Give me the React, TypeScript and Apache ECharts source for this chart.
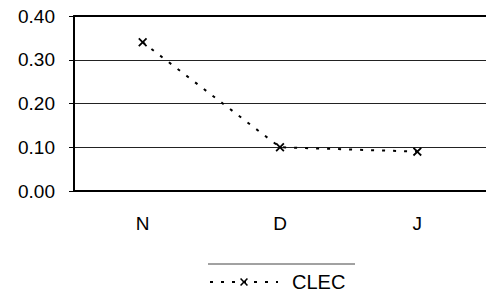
import React, { useEffect, useRef } from "react";
import * as echarts from "echarts";

const categories = ["N", "D", "J"];
const clecValues = [0.34, 0.1, 0.09];
const seriesName = "CLEC";
const yTicks = { min: 0, max: 0.4, interval: 0.1 };

const FONT = "'Liberation Sans', Arial, sans-serif";
const X_MARK = "path://M0,1.4L1.4,0L5,3.6L8.6,0L10,1.4L6.4,5L10,8.6L8.6,10L5,6.4L1.4,10L0,8.6L3.6,5Z";

export default function App() {
  const ref = useRef<HTMLDivElement>(null);
  useEffect(() => {
    const chart = echarts.init(ref.current!, null, { renderer: "svg" });
    chart.setOption({
      animation: false,
      backgroundColor: "#ffffff",
      textStyle: { fontFamily: FONT, color: "#000" },
      grid: { left: 74, top: 16, width: 416, height: 175, containLabel: false },
      xAxis: [
        {
          type: "category",
          data: categories,
          boundaryGap: true,
          axisLine: { show: true, lineStyle: { color: "#000", width: 2 } },
          axisTick: { show: false },
          axisLabel: { color: "#000", fontSize: 19, fontFamily: FONT, margin: 23 },
        },
        {
          type: "category",
          data: categories,
          position: "top",
          axisLine: { show: true, lineStyle: { color: "#000", width: 2 } },
          axisTick: { show: false },
          axisLabel: { show: false },
        },
      ],
      yAxis: {
        type: "value",
        min: yTicks.min,
        max: yTicks.max,
        interval: yTicks.interval,
        axisLine: { show: true, lineStyle: { color: "#000", width: 2 } },
        axisTick: { show: true, length: 5, lineStyle: { color: "#000", width: 1 } },
        axisLabel: {
          color: "#000",
          fontSize: 19,
          fontFamily: FONT,
          margin: 19,
          formatter: (v: number) => v.toFixed(2),
        },
        splitLine: { show: true, lineStyle: { color: "#222", width: 1 } },
      },
      legend: {
        show: true,
        top: 267,
        left: 204,
        itemWidth: 68,
        itemHeight: 10,
        itemGap: 4,
        textStyle: { color: "#000", fontSize: 20, fontFamily: FONT, padding: [0, 0, 0, 9] },
        data: [seriesName],
      },
      graphic: [
        {
          type: "line",
          shape: { x1: 208, y1: 264, x2: 355, y2: 264 },
          style: { stroke: "#444", lineWidth: 1 },
        },
      ],
      series: [
        {
          name: seriesName,
          type: "line",
          data: clecValues,
          symbol: X_MARK,
          symbolSize: 9,
          itemStyle: { color: "#000" },
          lineStyle: { color: "#000", width: 2, type: [3, 8] },
        },
      ],
    });
    return () => chart.dispose();
  }, []);
  return (
    <div
      ref={ref}
      style={{ position: "fixed", left: 0, top: 0, width: 486, height: 292, background: "#fff" }}
    />
  );
}
